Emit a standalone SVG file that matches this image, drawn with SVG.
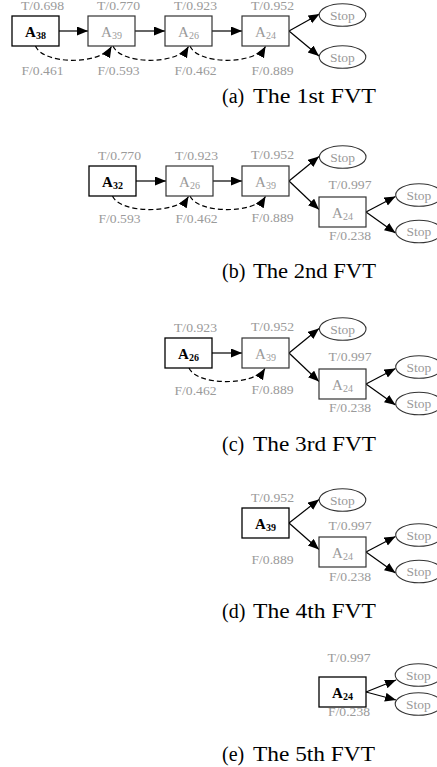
<svg xmlns="http://www.w3.org/2000/svg" width="437" height="767" viewBox="0 0 437 767">
<style>
.box{fill:#fff;stroke:#333;stroke-width:1.2}
.cur{stroke:#000;stroke-width:1.3}
.stop{fill:#fff;stroke:#333;stroke-width:1.1}
text{font-family:"Liberation Serif","Times New Roman",serif}
.lbl{font-size:12px;fill:#9a9a9a;text-anchor:middle}
.nl{font-size:15px;fill:#9a9a9a;text-anchor:middle}
.nb{fill:#000;font-weight:bold}
.st{font-size:13.5px;fill:#9a9a9a;text-anchor:middle}
.cap{font-size:20px;fill:#000}
.e{stroke:#000;stroke-width:1.2;fill:none;marker-end:url(#ah)}
.d{stroke-dasharray:5,3}
</style>
<defs>
<marker id="ah" markerUnits="userSpaceOnUse" markerWidth="12" markerHeight="10" refX="11" refY="4.5" orient="auto">
<path d="M0,0 L11,4.5 L0,9 z" fill="#000" stroke="none"/>
</marker>
</defs>

<g id="connectors">
<!-- (a) -->
<path class="e" d="M59,31 L88,31"/>
<path class="e" d="M135,31 L165,31"/>
<path class="e" d="M212,31 L242,31"/>
<path class="e" d="M289,31 L319.5,14"/>
<path class="e" d="M289,31 L319,56"/>
<path class="e d" d="M35.5,46 C43,65 101,65 111.5,46.5"/>
<path class="e d" d="M113,46 C121,65 178,65 188.5,46.5"/>
<path class="e d" d="M190,46 C198,65 255,65 265.5,46.5"/>
<!-- (b) -->
<path class="e" d="M136,181 L166,181"/>
<path class="e" d="M213,181 L242,181"/>
<path class="e" d="M289,181 L319,156.5"/>
<path class="e" d="M289,181 L319,209.5"/>
<path class="e" d="M366,212 L395.5,196.5"/>
<path class="e" d="M366,212 L395.5,233"/>
<path class="e d" d="M112.5,196 C120,214 178,214 188.5,196.5"/>
<path class="e d" d="M190,196 C198,214 255,214 265.5,196.5"/>
<!-- (c) -->
<path class="e" d="M212,353 L242,353"/>
<path class="e" d="M289,353 L319,328.5"/>
<path class="e" d="M289,353 L319,381.5"/>
<path class="e" d="M366,384 L395.5,368.5"/>
<path class="e" d="M366,384 L395.5,405"/>
<path class="e d" d="M189,368 C197,386 254,386 265,368.5"/>
<!-- (d) -->
<path class="e" d="M289,523 L319,499.5"/>
<path class="e" d="M289,523 L319,549.5"/>
<path class="e" d="M366,552 L395.5,536.5"/>
<path class="e" d="M366,552 L395.5,573"/>
<!-- (e) -->
<path class="e" d="M366,692 L396,680"/>
<path class="e" d="M366,692 L396,700"/>
</g>

<g id="edge-labels">
<!-- (a) -->
<text class="lbl" x="42.5" y="10" textLength="43" lengthAdjust="spacingAndGlyphs">T/0.698</text>
<text class="lbl" x="118.5" y="10" textLength="43" lengthAdjust="spacingAndGlyphs">T/0.770</text>
<text class="lbl" x="195.5" y="10" textLength="43" lengthAdjust="spacingAndGlyphs">T/0.923</text>
<text class="lbl" x="272.5" y="10" textLength="43" lengthAdjust="spacingAndGlyphs">T/0.952</text>
<text class="lbl" x="42.5" y="75" textLength="42" lengthAdjust="spacingAndGlyphs">F/0.461</text>
<text class="lbl" x="118.5" y="75" textLength="42" lengthAdjust="spacingAndGlyphs">F/0.593</text>
<text class="lbl" x="195.5" y="75" textLength="42" lengthAdjust="spacingAndGlyphs">F/0.462</text>
<text class="lbl" x="272.5" y="75" textLength="42" lengthAdjust="spacingAndGlyphs">F/0.889</text>
<!-- (b) -->
<text class="lbl" x="119.5" y="160" textLength="43" lengthAdjust="spacingAndGlyphs">T/0.770</text>
<text class="lbl" x="196.5" y="160" textLength="43" lengthAdjust="spacingAndGlyphs">T/0.923</text>
<text class="lbl" x="272.5" y="159" textLength="43" lengthAdjust="spacingAndGlyphs">T/0.952</text>
<text class="lbl" x="350" y="189" textLength="43" lengthAdjust="spacingAndGlyphs">T/0.997</text>
<text class="lbl" x="119.5" y="223" textLength="42" lengthAdjust="spacingAndGlyphs">F/0.593</text>
<text class="lbl" x="196.5" y="223" textLength="42" lengthAdjust="spacingAndGlyphs">F/0.462</text>
<text class="lbl" x="272.5" y="222" textLength="42" lengthAdjust="spacingAndGlyphs">F/0.889</text>
<text class="lbl" x="350" y="240" textLength="42" lengthAdjust="spacingAndGlyphs">F/0.238</text>
<!-- (c) -->
<text class="lbl" x="195.5" y="332" textLength="43" lengthAdjust="spacingAndGlyphs">T/0.923</text>
<text class="lbl" x="272.5" y="331" textLength="43" lengthAdjust="spacingAndGlyphs">T/0.952</text>
<text class="lbl" x="350" y="361" textLength="43" lengthAdjust="spacingAndGlyphs">T/0.997</text>
<text class="lbl" x="195.5" y="395" textLength="42" lengthAdjust="spacingAndGlyphs">F/0.462</text>
<text class="lbl" x="272.5" y="394" textLength="42" lengthAdjust="spacingAndGlyphs">F/0.889</text>
<text class="lbl" x="350" y="412" textLength="42" lengthAdjust="spacingAndGlyphs">F/0.238</text>
<!-- (d) -->
<text class="lbl" x="272.5" y="501.5" textLength="43" lengthAdjust="spacingAndGlyphs">T/0.952</text>
<text class="lbl" x="350" y="530" textLength="43" lengthAdjust="spacingAndGlyphs">T/0.997</text>
<text class="lbl" x="272.5" y="563.5" textLength="42" lengthAdjust="spacingAndGlyphs">F/0.889</text>
<text class="lbl" x="350" y="581" textLength="42" lengthAdjust="spacingAndGlyphs">F/0.238</text>
<!-- (e) -->
<text class="lbl" x="349" y="662" textLength="43" lengthAdjust="spacingAndGlyphs">T/0.997</text>
<text class="lbl" x="349" y="716" textLength="42" lengthAdjust="spacingAndGlyphs">F/0.238</text>
</g>

<!-- (a) nodes -->
<g id="a-A38"><rect class="box cur" x="12" y="16" width="47" height="30"/><text class="nl nb" x="35.5" y="36.7">A<tspan font-size="10" dy="2.5">38</tspan></text></g>
<g id="a-A39"><rect class="box" x="88" y="16" width="47" height="30"/><text class="nl" x="111.5" y="36.7">A<tspan font-size="10" dy="2.5">39</tspan></text></g>
<g id="a-A26"><rect class="box" x="165" y="16" width="47" height="30"/><text class="nl" x="188.5" y="36.7">A<tspan font-size="10" dy="2.5">26</tspan></text></g>
<g id="a-A24"><rect class="box" x="242" y="16" width="47" height="30"/><text class="nl" x="265.5" y="36.7">A<tspan font-size="10" dy="2.5">24</tspan></text></g>
<g id="a-stop1"><ellipse class="stop" cx="342.5" cy="15" rx="23.3" ry="11.3"/><text class="st" x="342.5" y="19.5">Stop</text></g>
<g id="a-stop2"><ellipse class="stop" cx="342.5" cy="57" rx="23.3" ry="11.3"/><text class="st" x="342.5" y="61.5">Stop</text></g>
<text class="cap" x="222" y="103">(a)</text><text class="cap" x="253" y="103" textLength="123" lengthAdjust="spacingAndGlyphs">The 1st FVT</text>

<!-- (b) nodes -->
<g id="b-A32"><rect class="box cur" x="89" y="166" width="47" height="30"/><text class="nl nb" x="112.5" y="186.7">A<tspan font-size="10" dy="2.5">32</tspan></text></g>
<g id="b-A26"><rect class="box" x="166" y="166" width="47" height="30"/><text class="nl" x="189.5" y="186.7">A<tspan font-size="10" dy="2.5">26</tspan></text></g>
<g id="b-A39"><rect class="box" x="242" y="166" width="47" height="30"/><text class="nl" x="265.5" y="186.7">A<tspan font-size="10" dy="2.5">39</tspan></text></g>
<g id="b-A24"><rect class="box" x="319" y="197" width="47" height="30"/><text class="nl" x="342.5" y="217.7">A<tspan font-size="10" dy="2.5">24</tspan></text></g>
<g id="b-stop1"><ellipse class="stop" cx="342.7" cy="157" rx="23.3" ry="11.3"/><text class="st" x="342.7" y="161.5">Stop</text></g>
<g id="b-stop2"><ellipse class="stop" cx="419" cy="195" rx="23.3" ry="11.3"/><text class="st" x="419" y="199.5">Stop</text></g>
<g id="b-stop3"><ellipse class="stop" cx="419" cy="231.5" rx="23.3" ry="11.3"/><text class="st" x="419" y="236">Stop</text></g>
<text class="cap" x="222" y="278">(b)</text><text class="cap" x="253" y="278" textLength="123" lengthAdjust="spacingAndGlyphs">The 2nd FVT</text>

<!-- (c) nodes -->
<g id="c-A26"><rect class="box cur" x="165" y="338" width="47" height="30"/><text class="nl nb" x="188.5" y="358.7">A<tspan font-size="10" dy="2.5">26</tspan></text></g>
<g id="c-A39"><rect class="box" x="242" y="338" width="47" height="30"/><text class="nl" x="265.5" y="358.7">A<tspan font-size="10" dy="2.5">39</tspan></text></g>
<g id="c-A24"><rect class="box" x="319" y="369" width="47" height="30"/><text class="nl" x="342.5" y="389.7">A<tspan font-size="10" dy="2.5">24</tspan></text></g>
<g id="c-stop1"><ellipse class="stop" cx="342.7" cy="329" rx="23.3" ry="11.3"/><text class="st" x="342.7" y="333.5">Stop</text></g>
<g id="c-stop2"><ellipse class="stop" cx="419" cy="367" rx="23.3" ry="11.3"/><text class="st" x="419" y="371.5">Stop</text></g>
<g id="c-stop3"><ellipse class="stop" cx="419" cy="403.5" rx="23.3" ry="11.3"/><text class="st" x="419" y="408">Stop</text></g>
<text class="cap" x="222" y="450.5">(c)</text><text class="cap" x="253" y="450.5" textLength="123" lengthAdjust="spacingAndGlyphs">The 3rd FVT</text>

<!-- (d) nodes -->
<g id="d-A39"><rect class="box cur" x="242" y="508" width="47" height="30"/><text class="nl nb" x="265.5" y="528.7">A<tspan font-size="10" dy="2.5">39</tspan></text></g>
<g id="d-A24"><rect class="box" x="319" y="537" width="47" height="30"/><text class="nl" x="342.5" y="557.7">A<tspan font-size="10" dy="2.5">24</tspan></text></g>
<g id="d-stop1"><ellipse class="stop" cx="342.5" cy="500" rx="23.3" ry="11.3"/><text class="st" x="342.5" y="504.5">Stop</text></g>
<g id="d-stop2"><ellipse class="stop" cx="419" cy="535" rx="23.3" ry="11.3"/><text class="st" x="419" y="539.5">Stop</text></g>
<g id="d-stop3"><ellipse class="stop" cx="419" cy="571.5" rx="23.3" ry="11.3"/><text class="st" x="419" y="576">Stop</text></g>
<text class="cap" x="222" y="618">(d)</text><text class="cap" x="253" y="618" textLength="123" lengthAdjust="spacingAndGlyphs">The 4th FVT</text>

<!-- (e) nodes -->
<g id="e-A24"><rect class="box cur" x="319" y="677" width="47" height="30"/><text class="nl nb" x="342.5" y="697.7">A<tspan font-size="10" dy="2.5">24</tspan></text></g>
<g id="e-stop1"><ellipse class="stop" cx="418.5" cy="675" rx="23.3" ry="11.3"/><text class="st" x="418.5" y="679.5">Stop</text></g>
<g id="e-stop2"><ellipse class="stop" cx="418.5" cy="704" rx="23.3" ry="11.3"/><text class="st" x="418.5" y="708.5">Stop</text></g>
<text class="cap" x="222" y="760.5">(e)</text><text class="cap" x="253" y="760.5" textLength="122" lengthAdjust="spacingAndGlyphs">The 5th FVT</text>
</svg>
